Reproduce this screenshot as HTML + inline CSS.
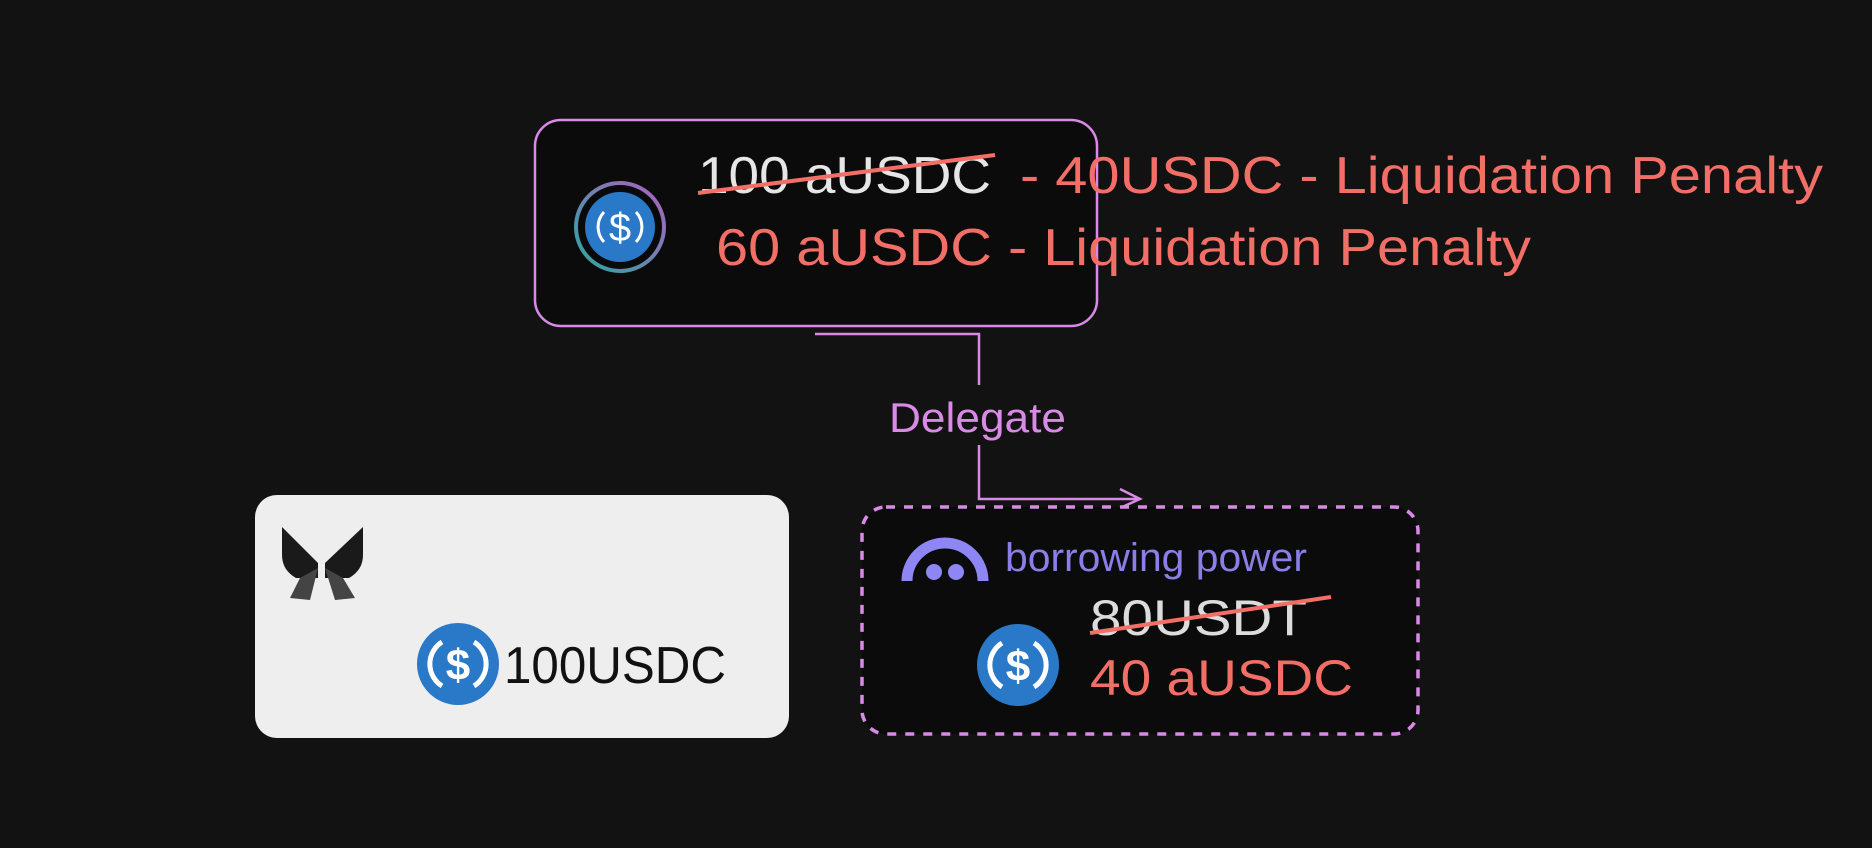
<!DOCTYPE html>
<html><head><style>html,body{margin:0;padding:0;background:#121212;}svg{display:block}</style></head>
<body>
<svg width="1872" height="848" viewBox="0 0 1872 848" xmlns="http://www.w3.org/2000/svg" font-family="Liberation Sans, sans-serif">
<defs><linearGradient id="rg" x1="1" y1="0" x2="0" y2="1"><stop offset="0" stop-color="#b060c0"/><stop offset="1" stop-color="#2aa6a0"/></linearGradient></defs>
<rect width="1872" height="848" fill="#121212"/>
<!-- top box -->
<rect x="535" y="120" width="562" height="206" rx="26" fill="#0b0b0b" stroke="#d88ae6" stroke-width="2.5"/>
<circle cx="620" cy="227" r="44" fill="none" stroke="url(#rg)" stroke-width="4"/>
<circle cx="620" cy="227" r="40" fill="#0a0a0a"/>
<circle cx="620" cy="227" r="35" fill="#2a78c8"/>
<text x="620" y="241" font-size="40" fill="#fff" text-anchor="middle">$</text>
<path d="M604 212 A22 22 0 0 0 604 242 M636 212 A22 22 0 0 1 636 242" stroke="#fff" stroke-width="3" fill="none"/>
<text x="698" y="193" font-size="52" fill="#e6e6e6" textLength="293" lengthAdjust="spacingAndGlyphs">100 aUSDC</text>
<line x1="698" y1="193" x2="995" y2="155" stroke="#f26e66" stroke-width="4"/>
<text x="1020" y="193" font-size="52" fill="#f26e66" textLength="803" lengthAdjust="spacingAndGlyphs">- 40USDC - Liquidation Penalty</text>
<text x="716" y="265" font-size="52" fill="#f26e66" textLength="815" lengthAdjust="spacingAndGlyphs">60 aUSDC - Liquidation Penalty</text>
<!-- connector -->
<path d="M815 334 L979 334 L979 385 M979 445 L979 499 L1140 499" fill="none" stroke="#d88ae6" stroke-width="2.5"/>
<path d="M1120 489 L1140 499 L1120 508" fill="none" stroke="#d88ae6" stroke-width="2.5"/>
<text x="889" y="432" font-size="42" fill="#d88ae6" textLength="177" lengthAdjust="spacingAndGlyphs">Delegate</text>
<!-- white box -->
<rect x="255" y="495" width="534" height="243" rx="22" fill="#eeeeee"/>
<path d="M282 527 L318 563 L318 578 L296 578 Q282 570 282 555 Z" fill="#1a1a1a"/>
<path d="M363 527 L325 563 L325 578 L349 578 Q363 570 363 555 Z" fill="#1a1a1a"/>
<path d="M300 578 L318 568 L310 600 L290 598 Z" fill="#444"/>
<path d="M343 578 L325 568 L335 600 L355 598 Z" fill="#444"/>
<circle cx="458" cy="664" r="41" fill="#2a78c8"/>
<path d="M442 642 A26 26 0 0 0 442 686 M474 642 A26 26 0 0 1 474 686" stroke="#fff" stroke-width="5" fill="none"/>
<text x="458" y="680" font-size="44" font-weight="bold" fill="#fff" text-anchor="middle">$</text>
<text x="504" y="683" font-size="52" fill="#111" textLength="222" lengthAdjust="spacingAndGlyphs">100USDC</text>
<!-- dashed box -->
<rect x="862" y="507" width="556" height="227" rx="24" fill="#0b0b0b" stroke="#d88ae6" stroke-width="3.5" stroke-dasharray="9 9"/>
<path d="M907 581 A38 38 0 0 1 983 581" fill="none" stroke="#8f86f5" stroke-width="11"/>
<circle cx="934" cy="572" r="8" fill="#8f86f5"/><circle cx="956" cy="572" r="8" fill="#8f86f5"/>
<text x="1005" y="571" font-size="40" fill="#8a7ee8" textLength="302" lengthAdjust="spacingAndGlyphs">borrowing power</text>
<text x="1090" y="635" font-size="50" fill="#dcdcdc" textLength="217" lengthAdjust="spacingAndGlyphs">80USDT</text>
<line x1="1090" y1="633" x2="1331" y2="597" stroke="#f26e66" stroke-width="4"/>
<circle cx="1018" cy="665" r="41" fill="#2a78c8"/>
<path d="M1002 643 A26 26 0 0 0 1002 687 M1034 643 A26 26 0 0 1 1034 687" stroke="#fff" stroke-width="5" fill="none"/>
<text x="1018" y="681" font-size="44" font-weight="bold" fill="#fff" text-anchor="middle">$</text>
<text x="1090" y="695" font-size="50" fill="#f26e66" textLength="263" lengthAdjust="spacingAndGlyphs">40 aUSDC</text>
</svg>
</body></html>
